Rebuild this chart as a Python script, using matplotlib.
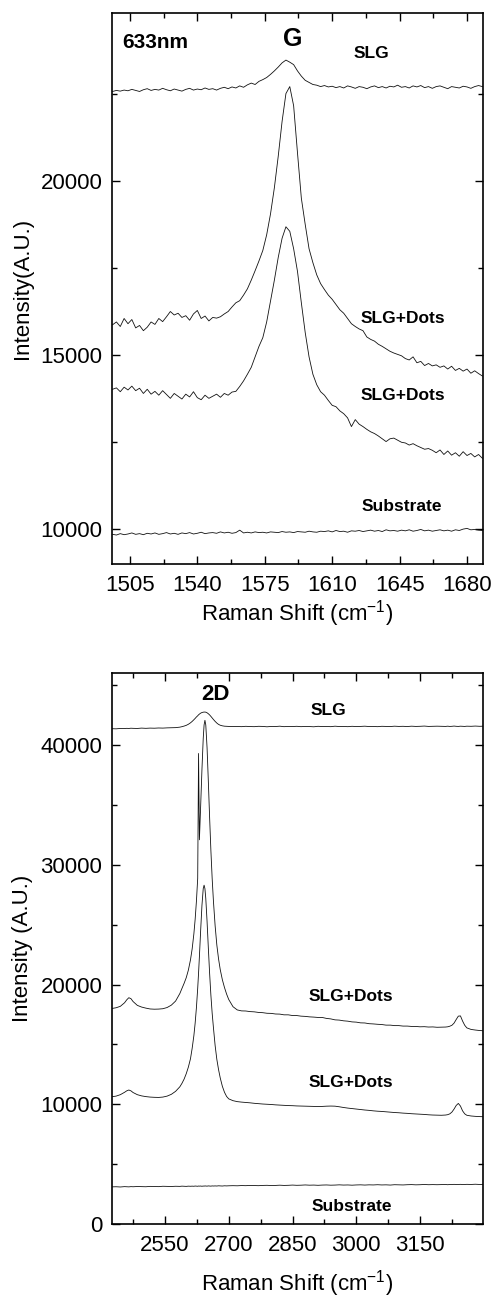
import matplotlib
matplotlib.use("Agg")
import matplotlib.pyplot as plt
from matplotlib.ticker import AutoMinorLocator

plt.rcParams['font.family'] = ['Liberation Sans', 'DejaVu Sans']
plt.rcParams['mathtext.fontset'] = 'custom'
plt.rcParams['mathtext.rm'] = 'Liberation Sans'

# ---- G band (633 nm) ----
shift_g = [1496, 1498, 1500, 1502, 1504, 1506, 1508, 1510, 1512, 1514,
           1516, 1518, 1520, 1522, 1524, 1526, 1528, 1530, 1532, 1534,
           1536, 1538, 1540, 1542, 1544, 1546, 1548, 1550, 1552, 1554,
           1556, 1558, 1560, 1562, 1564, 1566, 1568, 1570, 1572, 1574,
           1576, 1578, 1580, 1582, 1584, 1586, 1588, 1590, 1592, 1594,
           1596, 1598, 1600, 1602, 1604, 1606, 1608, 1610, 1612, 1614,
           1616, 1618, 1620, 1622, 1624, 1626, 1628, 1630, 1632, 1634,
           1636, 1638, 1640, 1642, 1644, 1646, 1648, 1650, 1652, 1654,
           1656, 1658, 1660, 1662, 1664, 1666, 1668, 1670, 1672, 1674,
           1676, 1678, 1680, 1682, 1684, 1686, 1688]

g_slg = [22560, 22590, 22570, 22600, 22580, 22620, 22590, 22560, 22610, 22640,
         22590, 22620, 22600, 22650, 22610, 22580, 22630, 22600, 22570, 22620,
         22650, 22600, 22630, 22610, 22660, 22620, 22640, 22600, 22650, 22680,
         22640, 22690, 22660, 22720, 22680, 22750, 22800, 22760, 22850, 22900,
         22960, 23050, 23150, 23260, 23380, 23460, 23400, 23330, 23150, 23000,
         22880, 22820, 22760, 22740, 22700, 22730, 22690, 22710, 22670, 22700,
         22660, 22720, 22690, 22650, 22700, 22680, 22640, 22690, 22720, 22670,
         22700, 22660, 22710, 22690, 22740, 22680, 22700, 22660, 22720, 22690,
         22730, 22670, 22700, 22650, 22700, 22720, 22680, 22640, 22700, 22680,
         22660, 22710, 22690, 22650, 22700, 22730, 22700]

g_dots_a = [15870, 15950, 15820, 16050, 15900, 16020, 15780, 15850, 15700, 15800,
            15950, 15880, 16050, 15960, 16100, 16250, 16150, 16200, 16080, 16130,
            16000, 16180, 16280, 16050, 16120, 15980, 16080, 16060, 16100, 16180,
            16250, 16380, 16500, 16560, 16720, 16900, 17150, 17420, 17700, 18000,
            18450, 19050, 19800, 20700, 21700, 22500, 22700, 22150, 20800, 19500,
            18750, 18050, 17650, 17300, 17050, 16880, 16720, 16600, 16450, 16300,
            16200, 16050, 15900, 15820, 15750, 15700, 15520, 15450, 15400, 15310,
            15250, 15180, 15110, 15060, 15020, 14980, 14900, 14860, 14950, 14780,
            14820, 14700, 14760, 14690, 14720, 14650, 14690, 14600, 14680, 14560,
            14620, 14540, 14600, 14480, 14550, 14470, 14400]

g_dots_b = [14020, 14060, 13950, 14080, 14000, 14110, 13980, 14050, 13900, 14020,
            13880, 13960, 13850, 13980, 13870, 13760, 13900, 13820, 13740, 13880,
            13800, 13950, 13780, 13720, 13850, 13760, 13820, 13880, 13790, 13900,
            13850, 13940, 13960, 14100, 14260, 14450, 14650, 14950, 15250, 15500,
            15950, 16550, 17150, 17800, 18350, 18680, 18550, 18050, 17400, 16500,
            15650, 14950, 14450, 14150, 13950, 13850, 13700, 13560, 13520, 13400,
            13320, 13200, 12950, 13150, 13020, 12950, 12870, 12800, 12750, 12680,
            12600, 12520, 12600, 12620, 12560, 12500, 12480, 12420, 12460, 12400,
            12350, 12300, 12320, 12270, 12200, 12280, 12150, 12250, 12130, 12200,
            12100, 12230, 12120, 12180, 12080, 12150, 12040]

g_substrate = [9860, 9840, 9880, 9850, 9870, 9900, 9860, 9880, 9850, 9890,
               9870, 9900, 9860, 9880, 9910, 9870, 9890, 9860, 9900, 9880,
               9910, 9870, 9890, 9920, 9880, 9900, 9910, 9890, 9930, 9900,
               9920, 9890, 9910, 9980, 9900, 9920, 9900, 9930, 9910, 9920,
               9900, 9930, 9920, 9910, 9940, 9920, 9930, 9910, 9940, 9930,
               9920, 9950, 9930, 9920, 9950, 9940, 9960, 9930, 9970, 9940,
               9950, 9920, 9960, 9950, 9970, 9940, 9960, 9980, 9950, 9970,
               9940, 9990, 9960, 9970, 9950, 9980, 9960, 9990, 9950, 9970,
               10000, 9960, 9980, 9950, 9970, 9990, 9960, 9980, 9950, 9990,
               9970, 10010, 10030, 9990, 10000, 9980, 9970]

g_ticks = [1505, 1540, 1575, 1610, 1645, 1680]
g_yticks = [10000, 15000, 20000]

# ---- 2D band ----
shift_2d = [2425, 2435, 2445, 2455, 2460, 2465, 2470, 2475, 2485, 2495,
            2505, 2515, 2525, 2535, 2545, 2555, 2565, 2575,
            2585, 2590, 2595, 2600, 2605, 2610,
            2614, 2618, 2621, 2624, 2627, 2629, 2631, 2634, 2637, 2640,
            2642, 2644, 2646, 2649, 2652, 2655, 2658, 2661, 2664,
            2668, 2672, 2676, 2680, 2685, 2690, 2695, 2700, 2710,
            2720, 2730, 2740, 2750, 2760, 2770, 2780, 2790,
            2800, 2810, 2820, 2830, 2840, 2850, 2860, 2870,
            2880, 2890, 2900, 2910, 2920, 2930, 2940, 2950,
            2960, 2970, 2980, 2990, 3000, 3010, 3020, 3030,
            3040, 3050, 3060, 3070, 3080, 3090, 3100, 3110,
            3120, 3130, 3140, 3150, 3160, 3170, 3180, 3190,
            3200, 3210, 3215, 3220, 3225, 3230, 3235, 3240,
            3245, 3250, 3255, 3260, 3270, 3280, 3290, 3298]

d_slg = [41370, 41360, 41390, 41380, 41400, 41390, 41410, 41400, 41390, 41420,
         41400, 41420, 41410, 41430, 41420, 41440, 41450, 41460,
         41500, 41540, 41590, 41650, 41740, 41860,
         41980, 42120, 42230, 42350, 42450, 42530, 42590, 42670, 42720, 42750,
         42760, 42760, 42750, 42700, 42620, 42520, 42400, 42270, 42140,
         41980, 41840, 41730, 41660, 41610, 41580, 41570, 41560, 41550,
         41560, 41540, 41570, 41550, 41540, 41570, 41560, 41530,
         41560, 41550, 41580, 41540, 41560, 41550, 41570, 41540,
         41560, 41550, 41530, 41570, 41550, 41560, 41540, 41580,
         41550, 41560, 41540, 41570, 41550, 41560, 41580, 41550,
         41560, 41540, 41570, 41560, 41550, 41580, 41560, 41570,
         41550, 41580, 41560, 41570, 41590, 41560, 41570, 41580,
         41570, 41560, 41580, 41560, 41570, 41590, 41570, 41560,
         41580, 41570, 41560, 41580, 41570, 41590, 41570, 41580]

d_dots_a = [18000, 18060, 18180, 18480, 18720, 18900, 18820, 18580, 18260, 18120,
            18030, 17960, 17940, 17950, 17980, 18080, 18280, 18620,
            19250, 19680, 20100, 20570, 21200, 22060,
            22990, 24240, 25450, 26970, 28870, 39300, 32090, 34970, 37980, 40560,
            41680, 42070, 41680, 39790, 36990, 33970, 31210, 28870, 26970,
            24900, 23300, 22150, 21250, 20400, 19750, 19200, 18750, 18150,
            17880, 17800, 17790, 17740, 17720, 17670, 17650, 17600,
            17590, 17540, 17530, 17470, 17470, 17410, 17410, 17360,
            17340, 17300, 17280, 17250, 17250, 17170, 17130, 17050,
            17030, 16970, 16940, 16880, 16860, 16800, 16790, 16730,
            16710, 16680, 16660, 16610, 16610, 16570, 16570, 16530,
            16530, 16500, 16500, 16470, 16480, 16450, 16460, 16430,
            16440, 16450, 16470, 16520, 16600, 16780, 17080, 17360,
            17380, 16950, 16600, 16380, 16250, 16200, 16160, 16140]

d_dots_b = [10630, 10680, 10800, 11000, 11120, 11190, 11120, 10980, 10800, 10700,
            10640, 10600, 10580, 10570, 10600, 10680, 10830, 11080,
            11460, 11750, 12100, 12550, 13100, 13800,
            14680, 15735, 16780, 18080, 19690, 20950, 22335, 24560, 26620, 28010,
            28300, 28010, 27190, 25285, 23070, 20950, 19115, 17610, 16400,
            14900, 13750, 12900, 12200, 11500, 11000, 10650, 10450, 10300,
            10220, 10180, 10150, 10120, 10080, 10050, 10020, 10000,
            9980, 9950, 9930, 9910, 9890, 9880, 9860, 9850,
            9840, 9830, 9820, 9810, 9820, 9840, 9850, 9840,
            9790, 9730, 9680, 9640, 9600, 9560, 9520, 9490,
            9450, 9420, 9400, 9370, 9340, 9310, 9290, 9260,
            9240, 9210, 9190, 9170, 9150, 9120, 9100, 9090,
            9080, 9100, 9130, 9200, 9350, 9600, 9900, 10070,
            9850, 9450, 9200, 9080, 9020, 8990, 8970, 8960]

d_substrate = [3100, 3110, 3090, 3120, 3110, 3100, 3120, 3110, 3130, 3120,
               3110, 3140, 3130, 3120, 3150, 3140, 3130, 3150,
               3140, 3160, 3150, 3140, 3160, 3150,
               3160, 3150, 3170, 3160, 3150, 3170, 3160, 3170, 3150, 3170,
               3160, 3180, 3170, 3160, 3180, 3170, 3160, 3180, 3170,
               3180, 3170, 3190, 3180, 3170, 3190, 3180, 3190, 3200,
               3190, 3210, 3200, 3220, 3210, 3200, 3220, 3230,
               3210, 3220, 3240, 3220, 3230, 3250, 3230, 3240,
               3260, 3240, 3250, 3230, 3250, 3260, 3240, 3250,
               3270, 3250, 3260, 3240, 3260, 3270, 3250, 3270,
               3260, 3280, 3260, 3270, 3250, 3280, 3270, 3260,
               3280, 3290, 3270, 3280, 3300, 3280, 3290, 3280,
               3290, 3300, 3280, 3300, 3290, 3310, 3290, 3300,
               3310, 3290, 3300, 3310, 3300, 3320, 3300, 3310]

d_ticks = [2550, 2700, 2850, 3000, 3150]
d_yticks = [0, 10000, 20000, 30000, 40000]

fig = plt.figure(figsize=(4.94, 12.97), dpi=100)
ax1 = fig.add_axes([0.2267, 0.5649, 0.7510, 0.4248])
ax2 = fig.add_axes([0.2267, 0.0563, 0.7510, 0.4246])

line_kw = dict(color='#111111', lw=0.6)

# top panel: G peak
for y in (g_slg, g_dots_a, g_dots_b, g_substrate):
    ax1.plot(shift_g, y, **line_kw)
ax1.set_xlim(1495.7, 1688.3)
ax1.set_ylim(9000, 24800)
ax1.set_xticks(g_ticks)
ax1.set_yticks(g_yticks)

# bottom panel: 2D peak
for y in (d_slg, d_dots_a, d_dots_b, d_substrate):
    ax2.plot(shift_2d, y, **line_kw)
ax2.set_xlim(2425.4, 3298)
ax2.set_ylim(0, 46000)
ax2.set_xticks(d_ticks)
ax2.set_yticks(d_yticks)

for ax in (ax1, ax2):
    ax.xaxis.set_minor_locator(AutoMinorLocator(2))
    ax.yaxis.set_minor_locator(AutoMinorLocator(2))
    ax.tick_params(which='both', direction='in', top=True, right=True,
                   width=1.0, labelsize=16)
    ax.tick_params(which='major', length=6)
    ax.tick_params(which='minor', length=3.5)
    ax.tick_params(axis='y', pad=7)
    ax.tick_params(axis='x', pad=8)
    for sp in ax.spines.values():
        sp.set_linewidth(1.2)

ax1.set_ylabel('Intensity(A.U.)', fontsize=16)
ax1.yaxis.set_label_coords(-0.213, 0.5)
ax1.set_xlabel(r'Raman Shift (cm$^{\mathregular{-1}}$)', fontsize=16)
ax1.xaxis.set_label_coords(0.5, -0.061)

ax2.set_ylabel('Intensity (A.U.)', fontsize=16)
ax2.yaxis.set_label_coords(-0.213, 0.5)
ax2.set_xlabel(r'Raman Shift (cm$^{\mathregular{-1}}$)', fontsize=16)
ax2.xaxis.set_label_coords(0.5, -0.080)

# labels on the curves
lab = dict(transform=ax1.transAxes, ha='center', va='center', fontweight='bold')
ax1.text(0.027, 0.9466, '633nm', fontsize=15, **dict(lab, ha='left'))
ax1.text(0.487, 0.953, 'G', fontsize=18, **lab)
ax1.text(0.700, 0.927, 'SLG', fontsize=12.5, **lab)
ax1.text(0.784, 0.4465, 'SLG+Dots', fontsize=12.5, **lab)
ax1.text(0.784, 0.307, 'SLG+Dots', fontsize=12.5, **lab)
ax1.text(0.781, 0.1045, 'Substrate', fontsize=12.5, **lab)

lab2 = dict(lab, transform=ax2.transAxes)
ax2.text(0.278, 0.9606, '2D', fontsize=16, **lab2)
ax2.text(0.583, 0.9333, 'SLG', fontsize=12.5, **lab2)
ax2.text(0.643, 0.4128, 'SLG+Dots', fontsize=12.5, **lab2)
ax2.text(0.643, 0.256, 'SLG+Dots', fontsize=12.5, **lab2)
ax2.text(0.646, 0.0314, 'Substrate', fontsize=12.5, **lab2)

fig.savefig('out.png', dpi=100)
